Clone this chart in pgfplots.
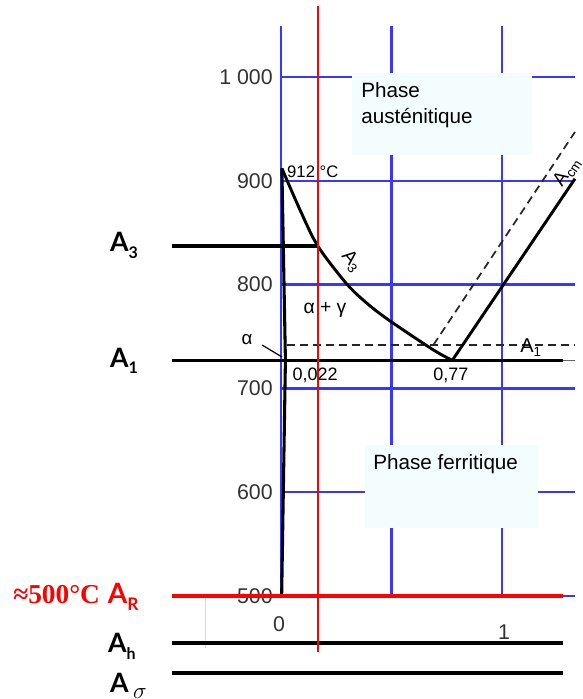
\documentclass[border=0pt]{standalone}
\usepackage{pgfplots}
\pgfplotsset{compat=1.18}
\usepackage{fontspec}
\setmainfont{Liberation Sans}
\newfontfamily\lbl{Lato}
\newfontfamily\tnr{Liberation Serif}
\definecolor{gridblue}{RGB}{55,55,255}
\definecolor{boxfill}{RGB}{244,253,254}
\definecolor{ticktext}{RGB}{51,51,51}
\begin{document}
\begin{tikzpicture}
\begin{axis}[
  x=165.75pt, y=0.7785pt,
  xmin=0, xmax=1.3303, ymin=500, ymax=1049,
  hide axis, clip=false,
]
% page frame (575 x 699 px)
\path (axis cs:-1.2715,400.77) rectangle (axis cs:1.3303,1074.18);

% blue grid
\addplot[gridblue, line width=1.7pt] coordinates {(0,500) (0,1049)};
\addplot[gridblue, line width=1.7pt] coordinates {(0.5,500) (0.5,1049)};
\addplot[gridblue, line width=1.7pt] coordinates {(1,500) (1,1049)};
\addplot[gridblue, line width=1.7pt] coordinates {(0,500) (1.3303,500)};
\addplot[gridblue, line width=1.7pt] coordinates {(0,600) (1.3303,600)};
\addplot[gridblue, line width=1.7pt] coordinates {(0,700) (1.3303,700)};
\addplot[gridblue, line width=1.7pt] coordinates {(0,800) (1.3303,800)};
\addplot[gridblue, line width=1.7pt] coordinates {(0,900) (1.3303,900)};
\addplot[gridblue, line width=1.7pt] coordinates {(0,1000) (1.3303,1000)};

% phase boxes
\node[fill=boxfill, minimum width=135pt, minimum height=61.5pt, anchor=north west, inner sep=0] at (axis cs:0.3213,1003.85) {};
\node[anchor=north west, inner sep=0, align=left, font=\fontsize{15.5}{19.5}\selectfont] at (axis cs:0.362,995.2) {Phase\\austénitique};
\node[fill=boxfill, minimum width=129.75pt, minimum height=62.25pt, anchor=north west, inner sep=0] at (axis cs:0.380,645.5) {};
\node[anchor=north west, inner sep=0, font=\fontsize{15.5}{19.5}\selectfont] at (axis cs:0.4163,636.8) {Phase ferritique};

% tick labels
\node[anchor=east, inner sep=0, text=ticktext, font=\fontsize{16}{16}\selectfont] at (axis cs:-0.0362,1000) {1\ 000};
\node[anchor=east, inner sep=0, text=ticktext, font=\fontsize{16}{16}\selectfont] at (axis cs:-0.0362,900) {900};
\node[anchor=east, inner sep=0, text=ticktext, font=\fontsize{16}{16}\selectfont] at (axis cs:-0.0362,800) {800};
\node[anchor=east, inner sep=0, text=ticktext, font=\fontsize{16}{16}\selectfont] at (axis cs:-0.0362,700) {700};
\node[anchor=east, inner sep=0, text=ticktext, font=\fontsize{16}{16}\selectfont] at (axis cs:-0.0362,600) {600};
\node[anchor=east, inner sep=0, text=ticktext, font=\fontsize{16}{16}\selectfont] at (axis cs:-0.0362,500) {500};
\node[inner sep=0, text=ticktext, font=\fontsize{16}{16}\selectfont] at (axis cs:-0.009,473) {0};
\node[inner sep=0, text=ticktext, font=\fontsize{16}{16}\selectfont] at (axis cs:1.009,465.3) {1};

% faint vertical
\addplot[black!15, line width=0.5pt] coordinates {(-0.344,500) (-0.344,450)};

% dashed lines
\addplot[black!85, line width=1.3pt, dash pattern=on 6pt off 3.8pt] coordinates {(0.025,742) (1.3303,742)};
\addplot[black!85, line width=1.3pt, dash pattern=on 6pt off 3.8pt] coordinates {(0.69,742) (1.3303,947)};

% phase boundaries
\addplot[black, line width=2.2pt, smooth] coordinates {(0.004,912) (0.086,872) (0.167,837) (0.30,800) (0.40,780) (0.5,764) (0.69,737) (0.775,727)};
\addplot[black, line width=2.3pt] coordinates {(0.004,912) (0.02,727) (0.003,500)};
\addplot[black, line width=2.2pt] coordinates {(0.775,727) (1.3303,902)};
\addplot[black, line width=0.9pt] coordinates {(-0.086,741.8) (0.0045,730.3)};

% horizontal reference lines
\addplot[black, line width=2.7pt] coordinates {(-0.493,837) (0.167,837)};
\addplot[black, line width=2.7pt] coordinates {(-0.493,727) (1.276,727)};
\addplot[black!60, line width=1.3pt] coordinates {(1.276,727) (1.3303,727)};
\addplot[black, line width=2.8pt] coordinates {(-0.493,454.7) (1.276,454.7)};
\addplot[black, line width=2.8pt] coordinates {(-0.493,425.8) (1.276,425.8)};

% red lines
\addplot[red, line width=2.8pt] coordinates {(-0.493,500) (1.276,500)};
\addplot[red, line width=2pt] coordinates {(0.167,446) (0.167,1068.4)};

% diagram labels
\node[anchor=west, inner sep=0, font=\fontsize{12.5}{12.5}\selectfont] at (axis cs:0.027,908.5) {912 °C};
\node[inner sep=0, font=\fontsize{13.5}{13.5}\selectfont] at (axis cs:0.154,712.9) {0,022};
\node[inner sep=0, font=\fontsize{13.5}{13.5}\selectfont] at (axis cs:0.769,712.9) {0,77};
\node[inner sep=0, font=\fontsize{14.5}{14.5}\selectfont] at (axis cs:0.199,775.5) {α + γ};
\node[inner sep=0, font=\fontsize{14}{14}\selectfont] at (axis cs:-0.154,747.5) {α};
\node[anchor=base west, inner sep=0, font=\fontsize{15}{15}\selectfont] at (axis cs:1.0814,734.1) {A\raisebox{-3pt}{\fontsize{10}{10}\selectfont 1}};
\node[inner sep=0, rotate=-50, font=\fontsize{14.5}{14.5}\selectfont] at (axis cs:0.318,822.5) {A\raisebox{-3pt}{\fontsize{10}{10}\selectfont 3}};
\node[anchor=base west, inner sep=0, rotate=56, font=\fontsize{14.5}{14.5}\selectfont] at (axis cs:1.2715,893.5) {A\raisebox{-3pt}{\fontsize{10}{10}\selectfont cm}};

% left labels
\node[anchor=base west, inner sep=0, font=\fontsize{20}{20}\selectfont\lbl\bfseries] at (axis cs:-0.774,831.4) {A\raisebox{-5pt}{\fontsize{12}{12}\selectfont 3}};
\node[anchor=base west, inner sep=0, font=\fontsize{20}{20}\selectfont\lbl\bfseries] at (axis cs:-0.774,720.6) {A\raisebox{-5pt}{\fontsize{12}{12}\selectfont 1}};
\node[anchor=base west, inner sep=0, text=red] at (axis cs:-1.2127,492.3) {{\fontsize{20.5}{20.5}\selectfont\tnr\bfseries ≈500°C}\hspace{6pt}{\fontsize{21}{21}\selectfont\lbl\bfseries A\raisebox{-5pt}{\fontsize{13}{13}\selectfont R}}};
\node[anchor=base west, inner sep=0, font=\fontsize{20}{20}\selectfont\lbl\bfseries] at (axis cs:-0.783,445.1) {A\raisebox{-5pt}{\fontsize{12}{12}\selectfont h}};
\node[anchor=base west, inner sep=0, font=\fontsize{20}{20}\selectfont\lbl\bfseries] at (axis cs:-0.774,407.5) {A\,\raisebox{-5pt}{\fontsize{16}{16}\selectfont$\sigma$}};
\end{axis}
\end{tikzpicture}
\end{document}
